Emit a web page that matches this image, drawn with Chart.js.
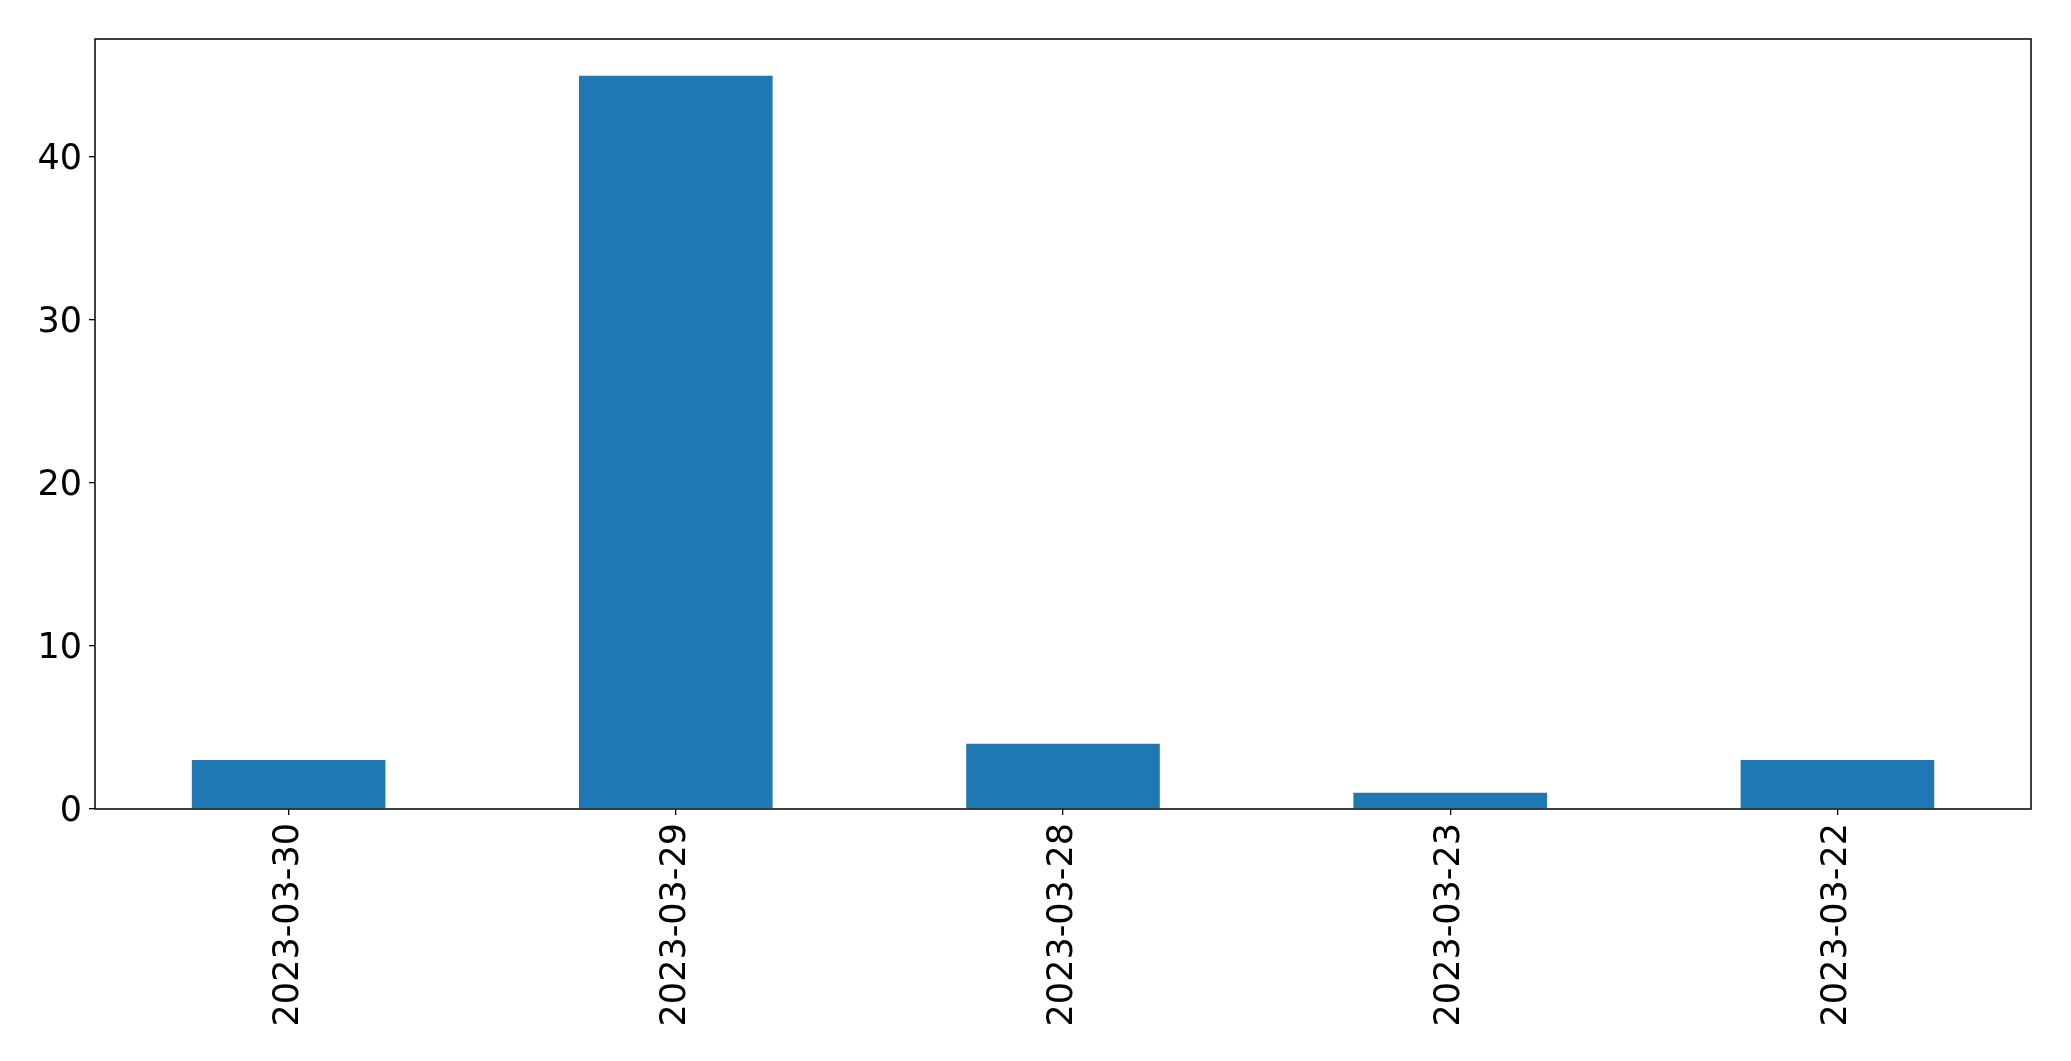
<!DOCTYPE html>
<html>
<head>
<meta charset="utf-8">
<script src="https://cdn.jsdelivr.net/npm/chart.js@4/dist/chart.umd.min.js"></script>
<style>
html,body{margin:0;padding:0;background:#fff;}
canvas{display:block;}
</style>
</head>
<body>
<canvas id="c" width="2071" height="1061"></canvas>
<script>
const categories = ["2023-03-30", "2023-03-29", "2023-03-28", "2023-03-23", "2023-03-22"];
const counts = [3, 45, 4, 1, 3];
const yTicks = [0, 10, 20, 30, 40];

const frame = {
  id: 'frame',
  afterDatasetsDraw(chart) {
    const a = chart.chartArea, ctx = chart.ctx;
    ctx.save();
    ctx.strokeStyle = '#000';
    ctx.lineWidth = 1.5;
    ctx.strokeRect(a.left, a.top, a.right - a.left, a.bottom - a.top);
    ctx.restore();
  }
};

new Chart(document.getElementById('c'), {
  type: 'bar',
  data: {
    labels: categories,
    datasets: [{
      data: counts,
      backgroundColor: '#1f77b4',
      borderWidth: 0,
      barPercentage: 0.5,
      categoryPercentage: 1.0
    }]
  },
  options: {
    responsive: false,
    animation: false,
    devicePixelRatio: 1,
    layout: { padding: { left: 0, right: 40, top: 39, bottom: 0 } },
    plugins: { legend: { display: false }, tooltip: { enabled: false } },
    scales: {
      x: {
        offset: true,
        grid: { display: true, drawOnChartArea: false, tickLength: 6, color: '#000', lineWidth: 1.3, offset: false },
        border: { display: false },
        ticks: {
          color: '#000',
          font: { family: 'DejaVu Sans', size: 35 },
          maxRotation: 90, minRotation: 90,
          padding: 8,
          autoSkip: false
        },
        afterFit(s) { s.height = 252; }
      },
      y: {
        min: 0,
        max: 47.25,
        afterBuildTicks(s) { s.ticks = yTicks.map(v => ({ value: v })); },
        grid: { display: true, drawOnChartArea: false, tickLength: 6, color: '#000', lineWidth: 1.3 },
        border: { display: false },
        ticks: {
          color: '#000',
          font: { family: 'DejaVu Sans', size: 35 },
          padding: 7,
          labelOffset: 3
        },
        afterFit(s) { s.width = 95; }
      }
    }
  },
  plugins: [frame]
});
</script>
</body>
</html>
